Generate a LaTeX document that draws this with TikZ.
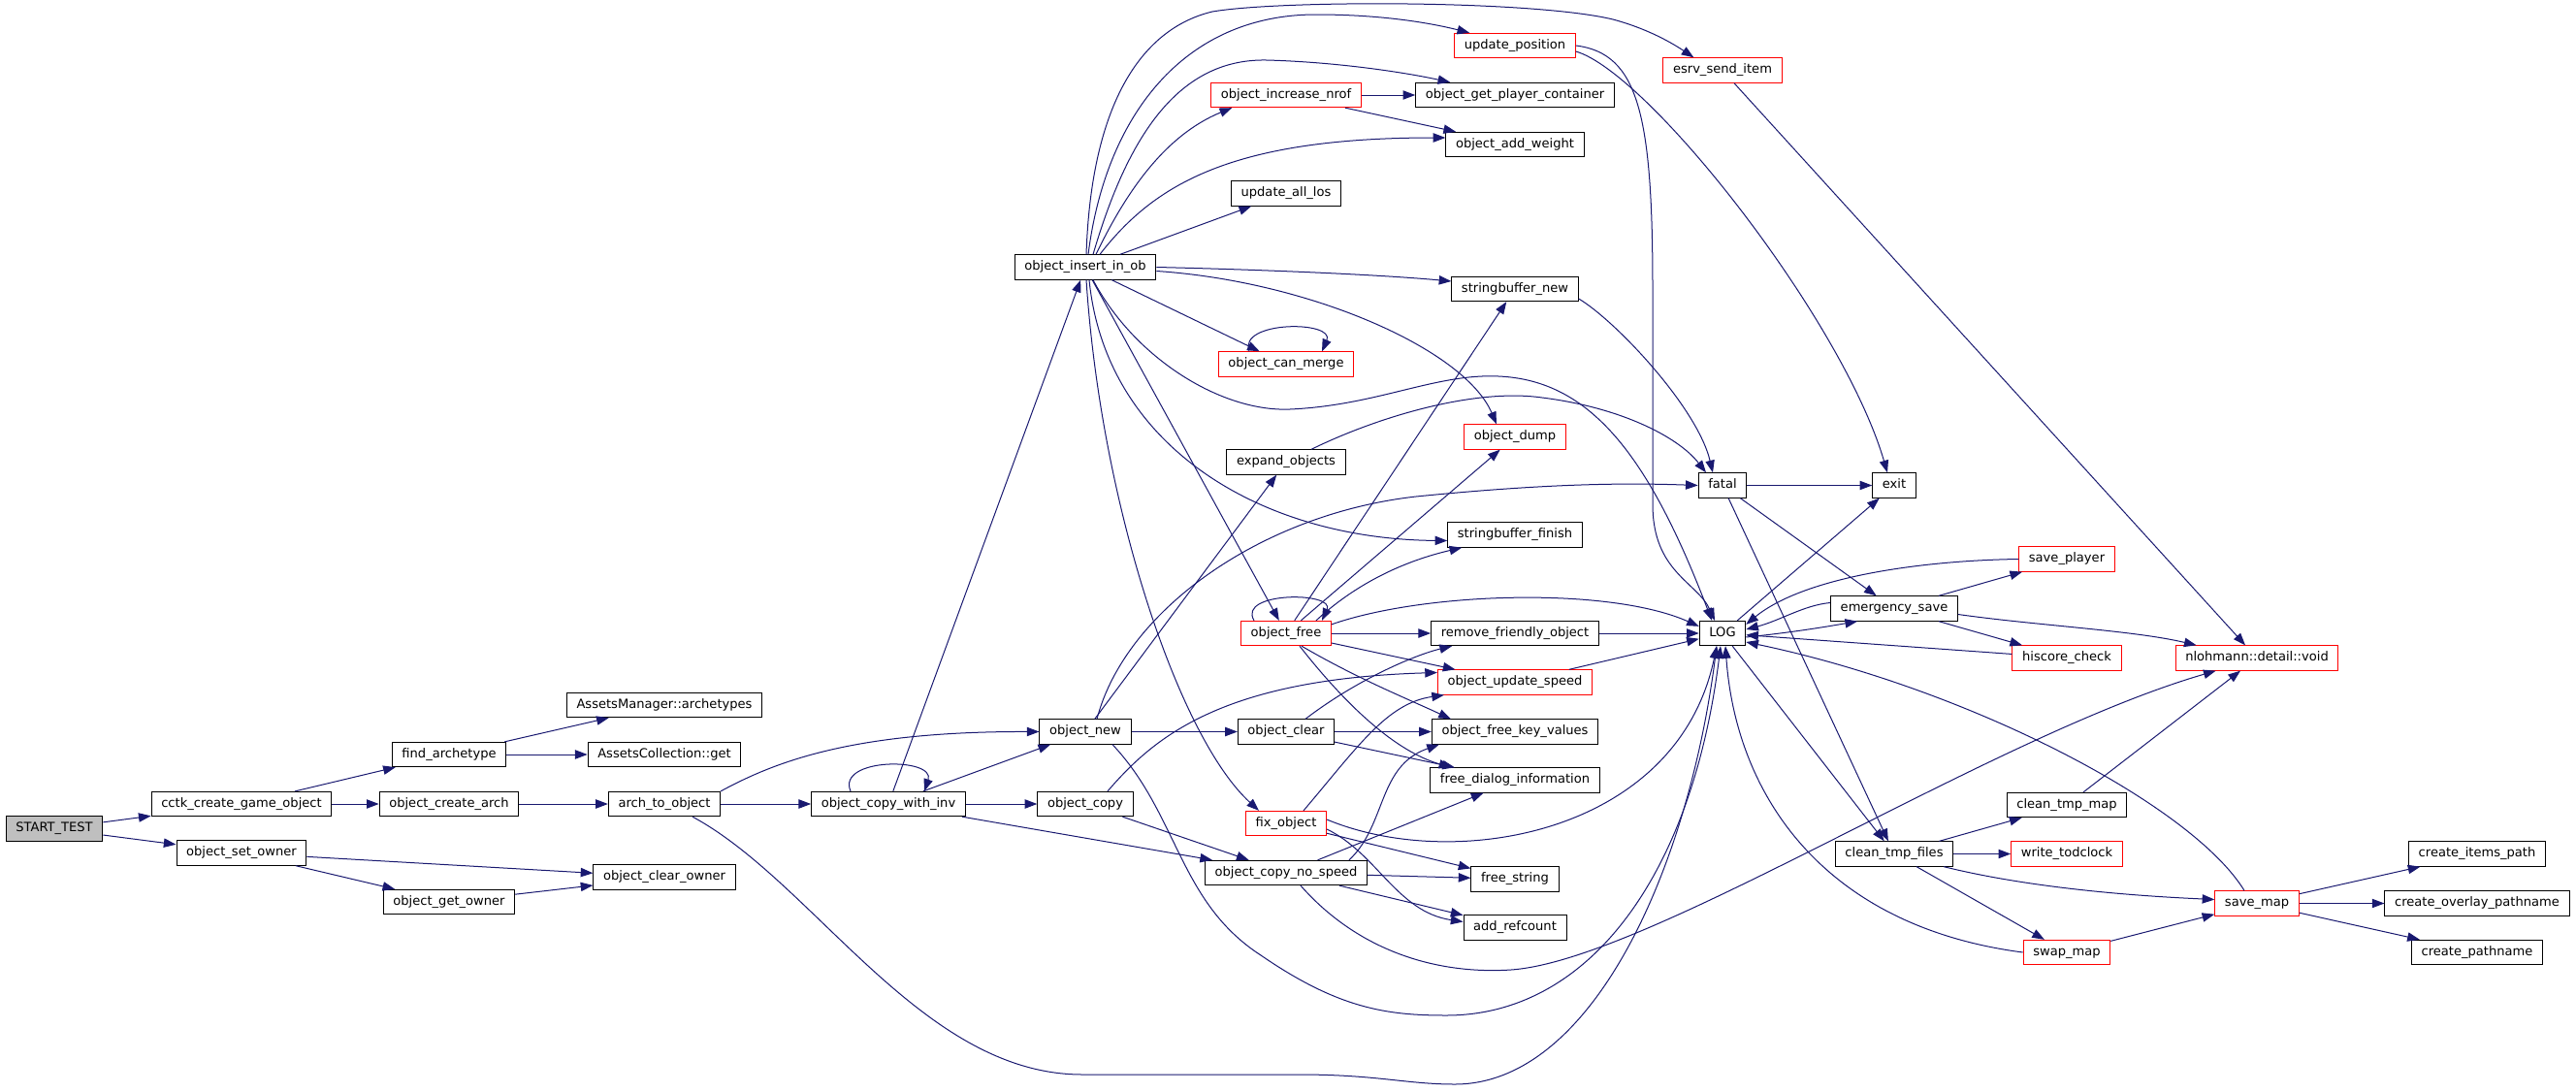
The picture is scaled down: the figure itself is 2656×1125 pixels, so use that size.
\documentclass[tikz,border=0pt]{standalone}
\usepackage{fontspec}
\setmainfont{DejaVu Sans}
\usepackage{tikz}
\usetikzlibrary{arrows.meta,calc}
\definecolor{callblue}{HTML}{191970}
\definecolor{rootgray}{HTML}{BFBFBF}
\newcommand{\fnfont}{\fontsize{9.8}{11}\selectfont}
\tikzset{
 >={Triangle[length=9.5pt,width=7pt]},
 fn/.style={shape=rectangle,draw=black,fill=white,line width=0.75pt,font=\fnfont,
  inner xsep=7.6pt,inner ysep=0pt,minimum height=19pt,text height=7.4pt,text depth=2.3pt},
 fnred/.style={fn,draw=red},
 fnroot/.style={fn,fill=rootgray},
 call/.style={->,draw=callblue,line width=0.75pt}
}
\begin{document}
\begin{tikzpicture}[x=0.75pt,y=-0.75pt]
\useasboundingbox (0,0) rectangle (2656,1125);

\path (56,854.5) node[fnroot,name=start] {START\_TEST};
\path (249,829) node[fn,name=cctk] {cctk\_create\_game\_object};
\path (249,879.5) node[fn,name=setowner] {object\_set\_owner};
\path (463,778) node[fn,name=findarch] {find\_archetype};
\path (463,829) node[fn,name=createarch] {object\_create\_arch};
\path (463,930) node[fn,name=getowner] {object\_get\_owner};
\path (685,727) node[fn,name=amarch] {AssetsManager::archetypes};
\path (685,778) node[fn,name=acget] {AssetsCollection::get};
\path (685,829) node[fn,name=arch] {arch\_to\_object};
\path (685,904.5) node[fn,name=clearowner] {object\_clear\_owner};
\path (916,829) node[fn,name=cwi] {object\_copy\_with\_inv};
\path (1119,275.5) node[fn,name=ins] {object\_insert\_in\_ob};
\path (1119,754.5) node[fn,name=onew] {object\_new};
\path (1119,829) node[fn,name=ocopy] {object\_copy};
\path (1326,98) node[fnred,name=inc] {object\_increase\_nrof};
\path (1326,199.5) node[fn,name=los] {update\_all\_los};
\path (1326,375.5) node[fnred,name=merge] {object\_can\_merge};
\path (1326,476.5) node[fn,name=expand] {expand\_objects};
\path (1326,653) node[fnred,name=ofree] {object\_free};
\path (1326,754.5) node[fn,name=oclear] {object\_clear};
\path (1326,849) node[fnred,name=fix] {fix\_object};
\path (1326,900) node[fn,name=ocns] {object\_copy\_no\_speed};
\path (1562,47) node[fnred,name=upos] {update\_position};
\path (1562,98) node[fn,name=gpc] {object\_get\_player\_container};
\path (1562,149) node[fn,name=aw] {object\_add\_weight};
\path (1562,298) node[fn,name=sbn] {stringbuffer\_new};
\path (1562,450.5) node[fnred,name=dump] {object\_dump};
\path (1562,551.5) node[fn,name=sbf] {stringbuffer\_finish};
\path (1562,653) node[fn,name=rfo] {remove\_friendly\_object};
\path (1562,703.5) node[fnred,name=ous] {object\_update\_speed};
\path (1562,754.5) node[fn,name=ofkv] {object\_free\_key\_values};
\path (1562,804.5) node[fn,name=fdi] {free\_dialog\_information};
\path (1562,906.5) node[fn,name=fstr] {free\_string};
\path (1562,956.5) node[fn,name=addref] {add\_refcount};
\path (1776,72.5) node[fnred,name=esrv] {esrv\_send\_item};
\path (1776,500.5) node[fn,name=fatal] {fatal};
\path (1776,653) node[fn,name=log] {LOG};
\path (1953,500.5) node[fn,name=exit] {exit};
\path (1953,627.5) node[fn,name=es] {emergency\_save};
\path (1953,880.5) node[fn,name=ctf] {clean\_tmp\_files};
\path (2131,576.5) node[fnred,name=sp] {save\_player};
\path (2131,678.5) node[fnred,name=hc] {hiscore\_check};
\path (2131,830) node[fn,name=ctm] {clean\_tmp\_map};
\path (2131,880.5) node[fnred,name=wtc] {write\_todclock};
\path (2131,982) node[fnred,name=swap] {swap\_map};
\path (2327,678.5) node[fnred,name=nl] {nlohmann::detail::void};
\path (2327,931.5) node[fnred,name=smap] {save\_map};
\path (2554,880.5) node[fn,name=cip] {create\_items\_path};
\path (2554,931.5) node[fn,name=cop] {create\_overlay\_pathname};
\path (2554,982) node[fn,name=cpn] {create\_pathname};

\draw[call] (start) -- (cctk);
\draw[call] (start) -- (setowner);
\draw[call] (cctk) -- (findarch);
\draw[call] (cctk) -- (createarch);
\draw[call] (findarch) -- (amarch);
\draw[call] (findarch) -- (acget);
\draw[call] (createarch) -- (arch);
\draw[call] (setowner) -- (clearowner);
\draw[call] (setowner) -- (getowner);
\draw[call] (getowner) -- (clearowner);

\draw[call] (arch.north east) .. controls (800,785) and (880,754) .. (onew.west);
\draw[call] (arch) -- (cwi);
\draw[call] ($(arch.south)+(29,0)$) .. controls (840,910) and (950,1108) .. (1116,1108) -- (1339,1108)
  .. controls (1420,1108) and (1450,1118) .. (1500,1118) .. controls (1640,1118) and (1740,900) .. ($(log.south)+(-6,0)$);

\draw[call] ($(cwi.north)+(-39,0)$) .. controls +(-15,-35) and +(12,-35) .. ($(cwi.north)+(37,0)$);
\draw[call] (cwi) -- (ins);
\draw[call] (cwi) -- (onew);
\draw[call] (cwi) -- (ocopy);
\draw[call] (cwi) -- (ocns);

\draw[call] (onew) -- (expand);
\draw[call] ($(onew.north)+(12,0)$) .. controls (1160,630) and (1300,530) .. (1460,512) .. controls (1600,498) and (1680,498) .. (fatal.west);
\draw[call] (onew) -- (oclear);
\draw[call] ($(onew.south)+(28,0)$) .. controls (1215,840) and (1215,930) .. (1300,985) .. controls (1380,1040) and (1430,1047) .. (1491,1047)
  .. controls (1640,1047) and (1745,900) .. ($(log.south)+(-2,0)$);
\draw[call] (ocopy) -- (ocns);
\draw[call] ($(ocopy.north)+(23,0)$) .. controls (1190,760) and (1260,700) .. ($(ous.west)+(0,-10)$);

\draw[call] ($(ins.north)+(3,0)$) .. controls (1140,120) and (1220,15) .. (1357,15) .. controls (1430,15) and (1480,25) .. ($(upos.north west)+(16,0)$);
\draw[call] ($(ins.north)+(1,0)$) .. controls (1125,110) and (1175,30) .. (1250,12) .. controls (1320,0) and (1580,0) .. (1663,20)
  .. controls (1700,30) and (1725,45) .. ($(esrv.north west)+(32,0)$);
\draw[call] ($(ins.north)+(8,0)$) .. controls (1160,150) and (1210,60) .. (1306,62) .. controls (1380,64) and (1450,75) .. ($(gpc.north west)+(36,0)$);
\draw[call] ($(ins.north)+(11,0)$) .. controls (1160,200) and (1200,140) .. ($(inc.south west)+(22,0)$);
\draw[call] ($(ins.north)+(15,0)$) .. controls (1190,190) and (1270,142) .. ($(aw.west)+(0,-7)$);
\draw[call] (ins) -- (los);
\draw[call] (ins.east) .. controls (1300,278) and (1420,283) .. ($(sbn.west)+(0,-8)$);
\draw[call] (ins) -- (merge);
\draw[call] ($(ins.east)+(0,4)$) .. controls (1350,290) and (1510,360) .. ($(dump.north)+(-19,0)$);
\draw[call] ($(ins.south)+(8,0)$) .. controls (1170,370) and (1260,425) .. (1330,422) .. controls (1420,418) and (1480,385) .. (1545,388)
  .. controls (1640,392) and (1700,470) .. ($(log.north)+(-11,0)$);
\draw[call] ($(ins.south)+(4,0)$) .. controls (1140,460) and (1300,556) .. ($(sbf.west)+(0,6)$);
\draw[call] (ins) -- (ofree);
\draw[call] ($(ins.south)+(1,0)$) .. controls (1135,520) and (1215,760) .. ($(fix.north west)+(14,0)$);

\draw[call] (inc) -- (gpc);
\draw[call] (inc) -- (aw);
\draw[call] ($(merge.north)+(-38,0)$) .. controls +(-12,-32) and +(14,-32) .. ($(merge.north)+(37,0)$);
\draw[call] (upos.east) .. controls (1690,55) and (1704,120) .. (1704,300) -- (1704,520) .. controls (1704,590) and (1750,600) .. ($(log.north)+(-8,0)$);
\draw[call] ($(upos.east)+(0,6)$) .. controls (1700,75) and (1900,330) .. ($(exit.north)+(-7,0)$);
\draw[call] (esrv) -- (nl);
\draw[call] ($(sbn.east)+(0,10)$) .. controls (1665,330) and (1750,420) .. ($(fatal.north)+(-10,0)$);
\draw[call] ($(expand.north)+(26,0)$) .. controls (1420,430) and (1520,400) .. (1590,410) .. controls (1670,420) and (1730,450) .. ($(fatal.north)+(-17,0)$);

\draw[call] ($(ofree.north)+(-33,0)$) .. controls +(-18,-30) and +(14,-30) .. ($(ofree.north)+(37,0)$);
\draw[call] (ofree) -- (sbn);
\draw[call] (ofree) -- (dump);
\draw[call] ($(ofree.north)+(31,0)$) .. controls (1400,600) and (1450,578) .. ($(sbf.south west)+(15,0)$);
\draw[call] ($(ofree.north east)+(0,4)$) .. controls (1470,610) and (1660,605) .. ($(log.north west)+(0,6)$);
\draw[call] (ofree) -- (rfo);
\draw[call] (ofree) -- (ous);
\draw[call] ($(ofree.south)+(16,0)$) .. controls (1400,700) and (1450,720) .. ($(ofkv.north west)+(20,0)$);
\draw[call] ($(ofree.south)+(14,0)$) .. controls (1390,730) and (1440,775) .. ($(fdi.north west)+(22,0)$);
\draw[call] (rfo) -- (log);
\draw[call] (ous) -- (log);
\draw[call] ($(oclear.north)+(20,0)$) .. controls (1400,700) and (1460,675) .. ($(rfo.south west)+(22,0)$);
\draw[call] (oclear) -- (ofkv);
\draw[call] (oclear) -- (fdi);
\draw[call] ($(fix.north)+(18,0)$) .. controls (1400,770) and (1430,725) .. ($(ous.south west)+(7,0)$);
\draw[call] ($(fix.east)+(0,-4)$) .. controls (1500,900) and (1730,860) .. ($(log.south)+(-6,0)$);
\draw[call] (fix) -- (fstr);
\draw[call] ($(fix.east)+(0,6)$) .. controls (1420,880) and (1440,940) .. ($(addref.west)+(0,-6)$);
\draw[call] ($(ocns.north)+(65,0)$) .. controls (1430,850) and (1420,790) .. ($(ofkv.south west)+(8,0)$);
\draw[call] (ocns) -- (fdi);
\draw[call] (ocns) -- (fstr);
\draw[call] (ocns) -- (addref);
\draw[call] ($(ocns.south)+(15,0)$) .. controls (1400,980) and (1480,1005) .. (1558,1000) .. controls (1700,990) and (2050,760) .. ($(nl.south west)+(42,0)$);

\draw[call] (fatal) -- (exit);
\draw[call] (fatal) -- (es);
\draw[call] (fatal) -- (ctf);
\draw[call] (log) -- (exit);
\draw[call] ($(log.east)+(0,4)$) .. controls (1850,652) and (1890,645) .. ($(es.south west)+(28,0)$);
\draw[call] (log) -- (ctf);
\draw[call] ($(es.west)+(0,-6)$) .. controls (1860,624) and (1835,640) .. ($(log.east)+(0,-4)$);
\draw[call] (es) -- (sp);
\draw[call] (es) -- (hc);
\draw[call] ($(es.east)+(0,6)$) .. controls (2100,645) and (2200,650) .. ($(nl.north west)+(22,0)$);
\draw[call] (sp.west) .. controls (1980,578) and (1860,595) .. ($(log.north east)+(0,4)$);
\draw[call] (hc) -- (log);
\draw[call] (ctf) -- (ctm);
\draw[call] (ctf) -- (wtc);
\draw[call] ($(ctf.south east)+(-10,0)$) .. controls (2070,910) and (2160,922) .. ($(smap.west)+(0,-4)$);
\draw[call] (ctf) -- (swap);
\draw[call] (ctm) -- (nl);
\draw[call] (swap.west) .. controls (1880,955) and (1790,820) .. ($(log.south)+(3,0)$);
\draw[call] (swap) -- (smap);
\draw[call] ($(smap.north)+(-13,0)$) .. controls (2260,830) and (2030,710) .. ($(log.east)+(0,9)$);
\draw[call] (smap) -- (cip);
\draw[call] (smap) -- (cop);
\draw[call] (smap) -- (cpn);
\end{tikzpicture}
\end{document}
